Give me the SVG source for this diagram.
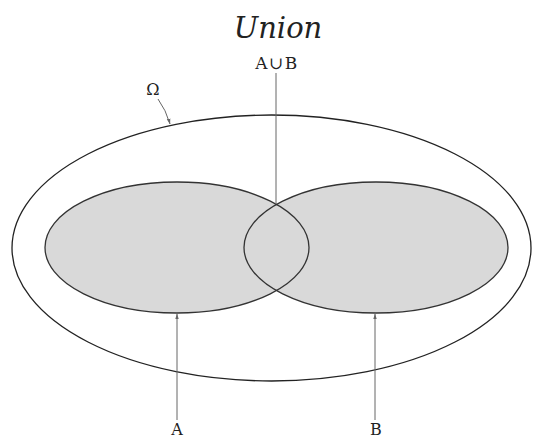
<svg xmlns="http://www.w3.org/2000/svg" width="536" height="441" viewBox="0 0 536 441">
<style>
.lbl{font-family:"DejaVu Serif","Liberation Serif",serif;fill:#222;text-anchor:middle}
.set{fill:#d9d9d9;stroke:none}
.edge{fill:none;stroke:#333;stroke-width:1.3}
.con{fill:none;stroke:#666;stroke-width:1}
</style>
<defs>
<marker id="ah" viewBox="0 0 10 10" refX="9" refY="5" markerWidth="6" markerHeight="6" orient="auto">
<path d="M0,2 L10,5 L0,8 Z" fill="#666"/>
</marker>
</defs>
<rect width="536" height="441" fill="#fff"/>
<g id="omega">
<ellipse cx="271.5" cy="248" rx="259.5" ry="133" fill="none" stroke="#222" stroke-width="1.3"/>
</g>
<g id="fills">
<ellipse class="set" cx="177" cy="247.5" rx="132" ry="65.5"/>
<ellipse class="set" cx="376" cy="247.5" rx="132" ry="65.5"/>
</g>
<g id="setA">
<ellipse class="edge" cx="177" cy="247.5" rx="132" ry="65.5"/>
</g>
<g id="setB">
<ellipse class="edge" cx="376" cy="247.5" rx="132" ry="65.5"/>
</g>
<g id="connectors">
<line class="con" x1="276" y1="73" x2="276" y2="204"/>
<line class="con" x1="177" y1="420" x2="177" y2="314" marker-end="url(#ah)"/>
<line class="con" x1="375" y1="420" x2="375" y2="314" marker-end="url(#ah)"/>
<path class="con" d="M158,99 Q166,110 170,124" marker-end="url(#ah)"/>
</g>
<g id="labels">
<text class="lbl" x="278" y="38" font-size="29" font-style="italic">Union</text>
<text class="lbl" x="277" y="69" font-size="17" letter-spacing="1.5">A∪B</text>
<text class="lbl" x="153" y="95" font-size="16">Ω</text>
<text class="lbl" x="177" y="435" font-size="16">A</text>
<text class="lbl" x="376" y="435" font-size="16">B</text>
</g>
</svg>
